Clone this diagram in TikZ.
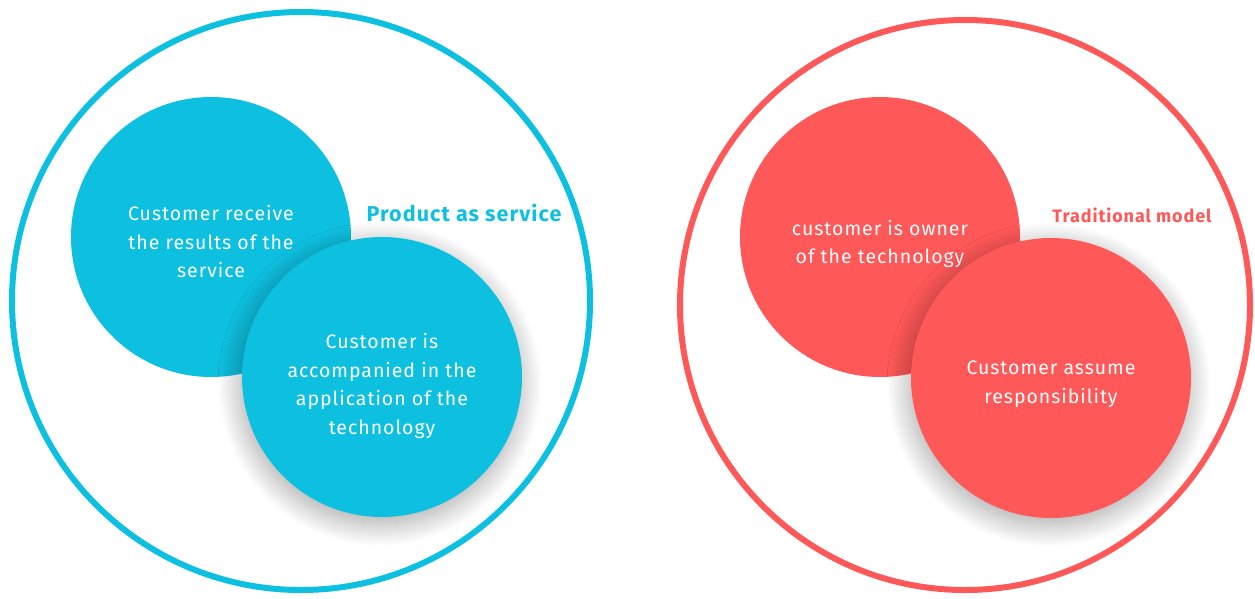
\documentclass[tikz,border=0pt]{standalone}
\usepackage{fontspec}
\setmainfont{Fira Sans}[LetterSpace=5]
\usetikzlibrary{shadows.blur}
\definecolor{svccyan}{HTML}{0EC0E0}
\definecolor{tradred}{HTML}{FF5858}
\begin{document}
\begin{tikzpicture}[x=1pt,y=-1pt,
  ring/.style={draw, line width=6pt},
  bubble/.style={circle, minimum size=280pt, inner sep=0pt},
  bubtext/.style={text=white, align=center, inner sep=0pt,
    font=\fontsize{19.5}{28.5}\selectfont},
  lifted/.style={blur shadow={shadow xshift=-2pt, shadow yshift=-7pt,
    shadow blur radius=22pt, shadow blur steps=30, shadow opacity=35}},
  title/.style={font=\bfseries\fontsize{21.5}{24}\selectfont}]
\useasboundingbox (0,0) rectangle (1255,598);
% left group: product as service
\draw[ring, svccyan] (301,301) circle (289);
\node[bubble, fill=svccyan] (recv) at (211,237) {};
\node[bubtext] (recv-t) at ([yshift=-5pt]recv.center)
  {Customer receive\\the results of the\\service};
\node[bubble, fill=svccyan, lifted] (accomp) at (382,377) {};
\node[bubtext] (accomp-t) at ([yshift=-9pt]accomp.center)
  {Customer is\\accompanied in the\\application of the\\technology};
\node[title, text=svccyan] (pas) at (464,213) {Product as service};
% right group: traditional model
\draw[ring, tradred] (965,305) circle (285);
\node[bubble, fill=tradred] (owner) at (880,237) {};
\node[bubtext] (owner-t) at ([yshift=-7pt]owner.center)
  {customer is owner\\of the technology};
\node[bubble, fill=tradred, lifted] (resp) at (1051,378) {};
\node[bubtext] (resp-t) at ([yshift=-6pt]resp.center)
  {Customer assume\\responsibility};
\node[title, text=tradred, font=\bfseries\fontsize{18}{20}\selectfont] (trad) at (1132,215) {Traditional model};
\end{tikzpicture}
\end{document}
